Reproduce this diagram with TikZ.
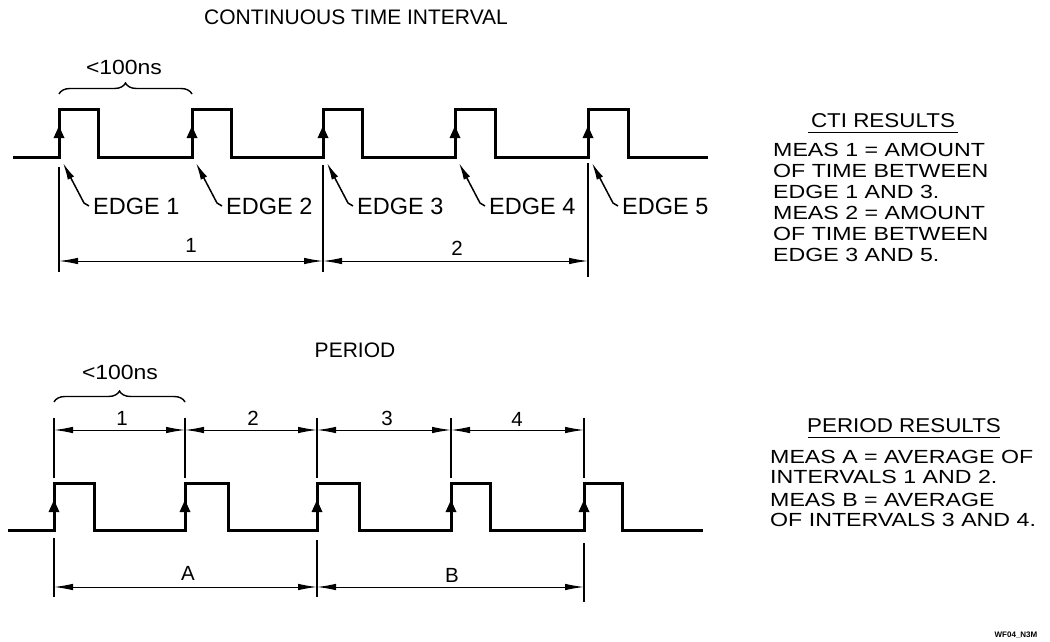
\documentclass[tikz,border=0pt]{standalone}
\usepackage{fontspec}
\setmainfont{Liberation Sans}
\newfontfamily\fA{Liberation Sans}
\newfontfamily\fB{Liberation Sans}[FakeStretch=1.12]
\newfontfamily\fC{Liberation Sans}[FakeStretch=1.22]
\newfontfamily\fD{Liberation Sans Bold}
\usetikzlibrary{arrows.meta,decorations.pathreplacing}
\begin{document}
\begin{tikzpicture}[x=1pt,y=-1pt,
  wave/.style={line width=3pt, line join=miter},
  ext/.style={line width=1.1pt},
  dim/.style={line width=1pt, {Latex[length=19pt,width=6.5pt]}-{Latex[length=19pt,width=6.5pt]}},
  lead/.style={line width=1.5pt, -{Latex[length=17pt,width=7pt]}},
  lbl/.style={inner sep=0pt, text depth=0pt},
  edgelbl/.style={lbl, font=\fA\fontsize{23.5}{24}\selectfont, text height=17pt, anchor=west},
  numlbl/.style={lbl, font=\fA\fontsize{20.5}{21}\selectfont, text height=14.5pt},
  head/.style={lbl, font=\fB\fontsize{20}{21}\selectfont, text height=14pt},
  res/.style={lbl, font=\fC\fontsize{19}{20}\selectfont, text height=13.5pt, anchor=west},
  ttl/.style={lbl, font=\fA\fontsize{21}{22}\selectfont, text height=15pt},
  ns/.style={lbl, font=\fB\fontsize{20.5}{21}\selectfont, text height=15pt},
  brc/.style={line width=1.4pt, decorate, decoration={brace, amplitude=11pt}},
  earrow/.style={fill=black}
]
\useasboundingbox (0,0) rectangle (1050,642);

% ---------- top: continuous time interval ----------
\node[ttl] (title) at (356,17.5) {CONTINUOUS TIME INTERVAL};

\draw[wave] (13,157) -- (59,157) -- (59,109) -- (98,109) -- (98,157)
  -- (192,157) -- (192,109) -- (231,109) -- (231,157)
  -- (323,157) -- (323,109) -- (362,109) -- (362,157)
  -- (455,157) -- (455,109) -- (495,109) -- (495,157)
  -- (588,157) -- (588,109) -- (628,109) -- (628,157) -- (708,157);
\foreach \x in {59,192,323,455,588}
  \fill[earrow] (\x,126) -- (\x-5.5,138) -- (\x+5.5,138) -- cycle;

% brace
\draw[brc] (59,94) -- (192,94);
\node[ns] (ns1) at (124,67) {<100ns};

% edge labels with leaders
\foreach \x/\n in {59/1,192/2,323/3,455/4,588/5}{
  \coordinate (tip\n) at (\x+4,163);
  \node[edgelbl] (edge\n) at (\x+34,206) {EDGE \n};
  \draw[lead] (edge\n.west) ++(-4,0) -- ++(-5,-3) -- (tip\n);
}

% extension lines
\draw[ext] (59,167) -- (59,272);
\draw[ext] (323,165) -- (323,272);
\draw[ext] (588,163) -- (588,277);

% dimensions
\coordinate (ta) at (59,261);
\coordinate (tb) at (323,261);
\coordinate (tc) at (588,261);
\draw[dim] (ta) -- (tb);
\draw[dim] (tb) -- (tc);
\node[numlbl] (d1) at (191,245) {1};
\node[numlbl] (d2) at (457,248) {2};

% CTI results
\node[head] (ctih) at (883,120) {CTI RESULTS};
\draw[line width=1pt] (808,132.5) -- (958,132.5);
\node[res] (c1) at (773,150) {MEAS 1 = AMOUNT};
\node[res] (c2) at (773,171) {OF TIME BETWEEN};
\node[res] (c3) at (773,192) {EDGE 1 AND 3.};
\node[res] (c4) at (773,213) {MEAS 2 = AMOUNT};
\node[res] (c5) at (773,234) {OF TIME BETWEEN};
\node[res] (c6) at (773,255) {EDGE 3 AND 5.};

% ---------- bottom: period ----------
\node[ttl] (ptitle) at (355,350) {PERIOD};
\draw[brc] (54,402) -- (185,402);
\node[ns] (ns2) at (120,372) {<100ns};

\draw[wave] (8,530) -- (54,530) -- (54,483) -- (94,483) -- (94,530)
  -- (185,530) -- (185,483) -- (228,483) -- (228,530)
  -- (317,530) -- (317,483) -- (359,483) -- (359,530)
  -- (451,530) -- (451,483) -- (490,483) -- (490,530)
  -- (584,530) -- (584,483) -- (622,483) -- (622,530) -- (703,530);
\foreach \x in {54,185,317,451,584}
  \fill[earrow] (\x,500) -- (\x-5.5,512) -- (\x+5.5,512) -- cycle;

% upper extension lines
\foreach \x in {54,185,317,451,584}
  \draw[ext] (\x,418) -- (\x,478);
% lower extension lines
\draw[ext] (54,538) -- (54,597);
\draw[ext] (317,540) -- (317,597);
\draw[ext] (584,543) -- (584,602);

% upper dimensions
\coordinate (p1) at (54,430);
\coordinate (p2) at (185,430);
\coordinate (p3) at (317,430);
\coordinate (p4) at (451,430);
\coordinate (p5) at (584,430);
\draw[dim] (p1) -- (p2);
\draw[dim] (p2) -- (p3);
\draw[dim] (p3) -- (p4);
\draw[dim] (p4) -- (p5);
\node[numlbl] (q1) at (122,418) {1};
\node[numlbl] (q2) at (253,418) {2};
\node[numlbl] (q3) at (387,418) {3};
\node[numlbl] (q4) at (517,419) {4};

% lower dimensions
\coordinate (r1) at (54,587);
\coordinate (r2) at (317,587);
\coordinate (r3) at (584,587);
\draw[dim] (r1) -- (r2);
\draw[dim] (r2) -- (r3);
\node[numlbl] (la) at (188,573) {A};
\node[numlbl] (lb) at (452,575) {B};

% period results
\node[head] (perh) at (904,425) {PERIOD RESULTS};
\draw[line width=1pt] (808,437.5) -- (1000,437.5);
\node[res] (r1t) at (770,457) {MEAS A = AVERAGE OF};
\node[res] (r2t) at (770,477) {INTERVALS 1 AND 2.};
\node[res] (r3t) at (770,500) {MEAS B = AVERAGE};
\node[res] (r4t) at (770,520) {OF INTERVALS 3 AND 4.};

\node[lbl, font=\fD\fontsize{8}{8}\selectfont] (fn) at (1016,635) {WF04\_N3M};
\end{tikzpicture}
\end{document}
